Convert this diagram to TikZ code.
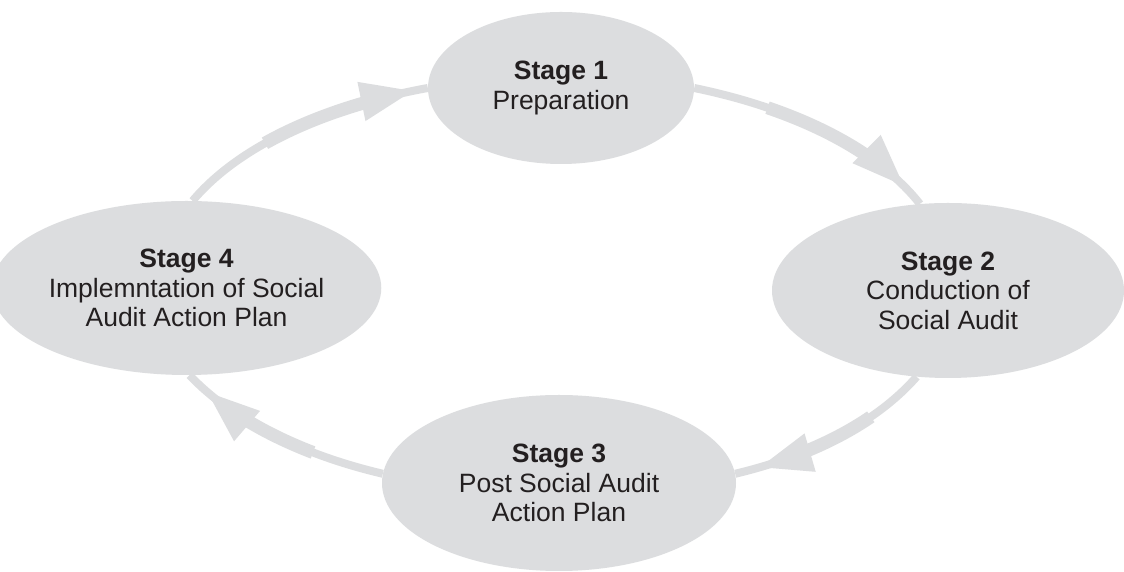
\documentclass[tikz,border=0pt]{standalone}
\usepackage{fontspec}
\setmainfont{Liberation Sans}
\usetikzlibrary{shapes.geometric,arrows.meta,decorations.markings}
\definecolor{blob}{RGB}{220,221,223}
\definecolor{ink}{RGB}{35,31,32}
\begin{document}
\begin{tikzpicture}[x=1pt,y=1pt,
  stage/.style={ellipse, fill=blob, inner sep=0pt, align=center, text=ink,
    font=\fontsize{26.5}{29.5}\selectfont},
  conn/.style={color=blob, line width=8pt},
  thickpart/.style 2 args={postaction={draw=blob, line width=13pt,
    dash pattern=on 0pt off #1 on #2 off 3000pt}},
  headat/.style={postaction={decorate, decoration={markings,
    mark=at position #1 with {\arrow{Triangle[length=52pt,width=40pt,line width=0pt,color=blob]}}}}}
]
\useasboundingbox (0,0) rectangle (1124,572);
\fill[white] (0,0) rectangle (1124,572);

\node[stage, minimum width=266pt, minimum height=152pt] (s1) at (561,484)
  {\textbf{Stage 1}\\Preparation};
\node[stage, minimum width=352pt, minimum height=175pt] (s2) at (948,281.5)
  {\textbf{Stage 2}\\Conduction of\\Social Audit};
\node[stage, minimum width=354pt, minimum height=176pt] (s3) at (559,89)
  {\textbf{Stage 3}\\Post Social Audit\\Action Plan};
\node[stage, minimum width=353pt, minimum height=174pt] (s4) at (186.5,284)
  {\textbf{Stage 4}\\Implemntation of Social\\Audit Action Plan};

\draw[conn, thickpart={93pt}{108pt}, headat=250pt]
  (s4.86) .. controls (237.8,425) and (323.1,464.9) .. (s1.180);
\draw[conn, thickpart={76pt}{109pt}, headat=234pt]
  (s1.0) .. controls (795.2,463.3) and (877.6,422) .. (s2.108);
\draw[conn, thickpart={61pt}{73pt}, headat=183pt]
  (s2.250) .. controls (877,149.9) and (812.3,116.6) .. (s3.3);
\draw[conn, thickpart={73pt}{73pt}, headat=195pt]
  (s3.177) .. controls (298.2,118.1) and (230.1,153.7) .. (s4.272);
\end{tikzpicture}
\end{document}
